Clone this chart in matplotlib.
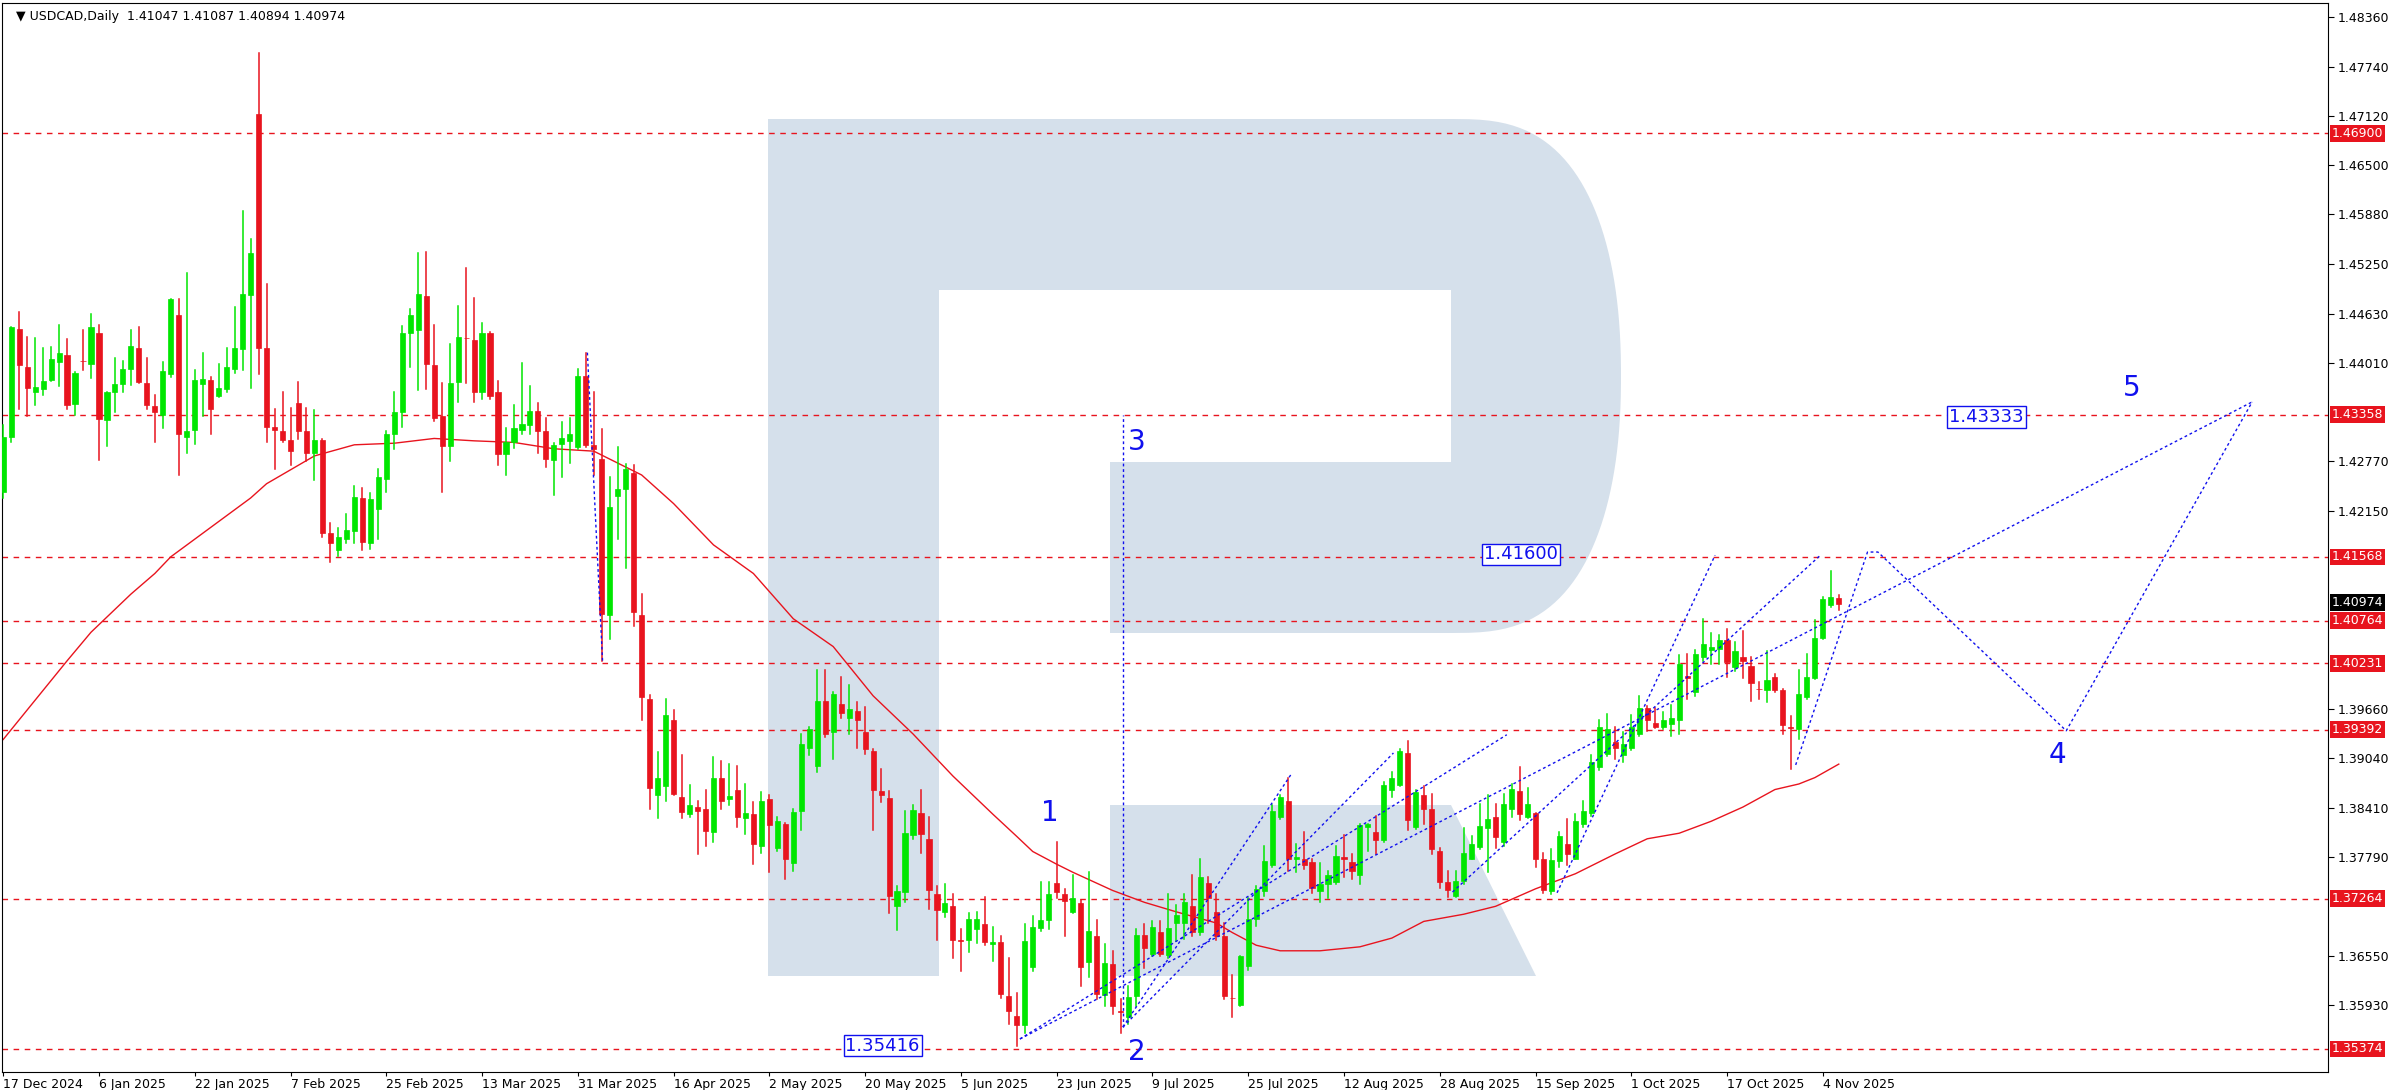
import matplotlib
matplotlib.use('Agg')
import matplotlib.pyplot as plt
from matplotlib.patches import Rectangle, Polygon
from matplotlib.transforms import blended_transform_factory
import numpy as np

# daily candles (bar 1 = 17 Dec 2024)
opens = [1.4238,1.4308,1.4444,1.4396,1.4365,1.4368,1.4380,1.4402,1.4411,1.4349,
         1.4404,1.4400,1.4439,1.4329,1.4365,1.4374,1.4394,1.4420,1.4376,1.4347,
         1.4336,1.4387,1.4462,1.4308,1.4317,1.4375,1.4380,1.4360,1.4368,1.4394,
         1.4418,1.4487,1.4715,1.4420,1.4321,1.4316,1.4304,1.4350,1.4315,1.4288,
         1.4304,1.4187,1.4165,1.4179,1.4189,1.4231,1.4174,1.4217,1.4255,1.4312,
         1.4339,1.4439,1.4443,1.4485,1.4399,1.4334,1.4297,1.4377,1.4433,1.4430,
         1.4364,1.4439,1.4364,1.4287,1.4301,1.4317,1.4323,1.4341,1.4316,1.4279,
         1.4299,1.4303,1.4295,1.4385,1.4298,1.4280,1.4084,1.4233,1.4242,1.4262,
         1.4084,1.3978,1.3857,1.3868,1.3951,1.3854,1.3833,1.3842,1.3840,1.3811,
         1.3879,1.3852,1.3863,1.3828,1.3833,1.3793,1.3852,1.3791,1.3820,1.3771,
         1.3837,1.3916,1.3894,1.3975,1.3936,1.3972,1.3954,1.3963,1.3937,1.3913,
         1.3862,1.3853,1.3718,1.3735,1.3807,1.3834,1.3802,1.3732,1.3710,1.3718,
         1.3675,1.3674,1.3688,1.3695,1.3670,1.3672,1.3604,1.3579,1.3567,1.3641,
         1.3690,1.3700,1.3746,1.3732,1.3710,1.3721,1.3647,1.3679,1.3605,1.3644,
         1.3585,1.3578,1.3604,1.3681,1.3657,1.3685,1.3656,1.3696,1.3696,1.3718,
         1.3685,1.3746,1.3710,1.3679,1.3602,1.3593,1.3642,1.3701,1.3736,1.3769,
         1.3830,1.3850,1.3777,1.3776,1.3773,1.3736,1.3745,1.3747,1.3779,1.3773,
         1.3756,1.3817,1.3811,1.3800,1.3864,1.3870,1.3910,1.3817,1.3857,1.3839,
         1.3787,1.3747,1.3730,1.3749,1.3777,1.3792,1.3815,1.3830,1.3798,1.3840,
         1.3862,1.3830,1.3835,1.3776,1.3736,1.3774,1.3796,1.3777,1.3820,1.3835,
         1.3893,1.3909,1.3924,1.3908,1.3916,1.3934,1.3967,1.3948,1.3943,1.3946,
         1.3952,1.4007,1.3987,1.4031,1.4040,1.4041,1.4052,1.4018,1.4031,1.4020,
         1.3991,1.3989,1.4006,1.3989,1.3943,1.3940,1.3981,1.4004,1.4055,1.4096,
         1.41047]
highs = [1.4323,1.4446,1.4465,1.4434,1.4433,1.4420,1.4421,1.4449,1.4431,1.4390,
         1.4442,1.4463,1.4449,1.4365,1.4407,1.4404,1.4443,1.4446,1.4407,1.4361,
         1.4402,1.4481,1.4482,1.4514,1.4392,1.4413,1.4383,1.4400,1.4420,1.4471,
         1.4592,1.4557,1.4791,1.4501,1.4343,1.4365,1.4344,1.4377,1.4344,1.4342,
         1.4305,1.4199,1.4193,1.4211,1.4246,1.4244,1.4237,1.4267,1.4315,1.4365,
         1.4448,1.4469,1.4539,1.4541,1.4449,1.4376,1.4425,1.4473,1.4520,1.4483,
         1.4451,1.4440,1.4378,1.4319,1.4348,1.4401,1.4372,1.4350,1.4332,1.4300,
         1.4327,1.4332,1.4393,1.4414,1.4364,1.4318,1.4258,1.4295,1.4274,1.4272,
         1.4110,1.3983,1.3911,1.3978,1.3964,1.3907,1.3870,1.3850,1.3863,1.3905,
         1.3900,1.3896,1.3894,1.3871,1.3848,1.3861,1.3857,1.3829,1.3822,1.3839,
         1.3934,1.3943,1.4015,1.4015,1.3987,1.4006,1.3996,1.3974,1.3968,1.3915,
         1.3890,1.3862,1.3742,1.3837,1.3845,1.3863,1.3830,1.3742,1.3745,1.3732,
         1.3688,1.3709,1.3710,1.3729,1.3691,1.3679,1.3652,1.3608,1.3695,1.3705,
         1.3747,1.3747,1.3798,1.3739,1.3757,1.3725,1.3760,1.3700,1.3670,1.3661,
         1.3600,1.3617,1.3688,1.3695,1.3698,1.3698,1.3732,1.3719,1.3732,1.3756,
         1.3776,1.3754,1.3732,1.3696,1.3630,1.3654,1.3727,1.3742,1.3793,1.3844,
         1.3857,1.3879,1.3795,1.3811,1.3776,1.3771,1.3762,1.3793,1.3807,1.3783,
         1.3821,1.3821,1.3831,1.3874,1.3886,1.3915,1.3925,1.3863,1.3868,1.3858,
         1.3791,1.3761,1.3762,1.3815,1.3806,1.3846,1.3857,1.3846,1.3859,1.3871,
         1.3892,1.3866,1.3835,1.3784,1.3789,1.3811,1.3827,1.3833,1.3850,1.3908,
         1.3952,1.3959,1.3943,1.3936,1.3958,1.3982,1.3969,1.3967,1.3962,1.3971,
         1.4033,1.4035,1.4040,1.4079,1.4061,1.4059,1.4066,1.4050,1.4063,1.4031,
         1.4000,1.4038,1.4009,1.3991,1.3956,1.4015,1.4035,1.4077,1.4106,1.4139,
         1.41087]
lows = [1.4231,1.4302,1.4343,1.4334,1.4348,1.4361,1.4378,1.4372,1.4343,1.4336,
        1.4392,1.4382,1.4279,1.4297,1.4339,1.4364,1.4373,1.4376,1.4343,1.4301,
        1.4319,1.4383,1.4260,1.4288,1.4299,1.4334,1.4312,1.4358,1.4365,1.4389,
        1.4392,1.4369,1.4387,1.4301,1.4268,1.4301,1.4273,1.4305,1.4277,1.4254,
        1.4182,1.4150,1.4158,1.4175,1.4174,1.4165,1.4167,1.4180,1.4238,1.4293,
        1.4321,1.4396,1.4367,1.4368,1.4328,1.4238,1.4277,1.4352,1.4376,1.4352,
        1.4356,1.4356,1.4273,1.4260,1.4294,1.4312,1.4311,1.4288,1.4270,1.4235,
        1.4258,1.4275,1.4293,1.4295,1.4260,1.4026,1.4053,1.4180,1.4143,1.4070,
        1.3952,1.3840,1.3828,1.3849,1.3857,1.3828,1.3830,1.3783,1.3793,1.3798,
        1.3840,1.3844,1.3817,1.3808,1.3770,1.3784,1.3760,1.3787,1.3751,1.3762,
        1.3813,1.3908,1.3886,1.3930,1.3902,1.3954,1.3934,1.3916,1.3909,1.3813,
        1.3848,1.3709,1.3687,1.3723,1.3802,1.3784,1.3714,1.3674,1.3703,1.3652,
        1.3635,1.3659,1.3671,1.3668,1.3648,1.3602,1.3569,1.3541,1.3557,1.3635,
        1.3686,1.3688,1.3727,1.3679,1.3708,1.3617,1.3628,1.3600,1.3591,1.3582,
        1.3557,1.3569,1.3591,1.3639,1.3655,1.3654,1.3652,1.3673,1.3676,1.3679,
        1.3681,1.3696,1.3674,1.3600,1.3578,1.3591,1.3637,1.3692,1.3730,1.3767,
        1.3827,1.3762,1.3760,1.3764,1.3734,1.3723,1.3727,1.3745,1.3754,1.3751,
        1.3745,1.3787,1.3783,1.3798,1.3855,1.3868,1.3813,1.3814,1.3821,1.3783,
        1.3740,1.3729,1.3729,1.3745,1.3776,1.3789,1.3760,1.3791,1.3793,1.3830,
        1.3826,1.3828,1.3767,1.3734,1.3732,1.3767,1.3769,1.3776,1.3817,1.3831,
        1.3888,1.3906,1.3902,1.3899,1.3914,1.3931,1.3938,1.3941,1.3940,1.3932,
        1.3934,1.3978,1.3982,1.4026,1.4022,1.4022,1.4006,1.4013,1.4004,1.3975,
        1.3978,1.3974,1.3987,1.3934,1.3890,1.3927,1.3978,1.4003,1.4053,1.4094,
        1.40894]
closes = [1.4308,1.4446,1.4398,1.4370,1.4371,1.4378,1.4406,1.4414,1.4348,1.4388,
          1.4403,1.4446,1.4330,1.4365,1.4374,1.4394,1.4422,1.4377,1.4348,1.4339,
          1.4391,1.4481,1.4311,1.4316,1.4379,1.4381,1.4343,1.4369,1.4396,1.4420,
          1.4488,1.4539,1.4420,1.4321,1.4317,1.4304,1.4290,1.4316,1.4288,1.4304,
          1.4187,1.4174,1.4182,1.4191,1.4232,1.4176,1.4230,1.4257,1.4312,1.4339,
          1.4439,1.4462,1.4488,1.4400,1.4332,1.4297,1.4376,1.4434,1.4432,1.4365,
          1.4439,1.4360,1.4287,1.4301,1.4319,1.4324,1.4341,1.4316,1.4280,1.4298,
          1.4306,1.4311,1.4385,1.4298,1.4293,1.4085,1.4220,1.4242,1.4268,1.4088,
          1.3981,1.3866,1.3879,1.3958,1.3859,1.3836,1.3844,1.3837,1.3812,1.3879,
          1.3849,1.3856,1.3829,1.3835,1.3795,1.3850,1.3819,1.3824,1.3776,1.3836,
          1.3921,1.3940,1.3975,1.3934,1.3984,1.3960,1.3966,1.3952,1.3915,1.3863,
          1.3857,1.3730,1.3736,1.3809,1.3838,1.3808,1.3738,1.3712,1.3721,1.3674,
          1.3673,1.3701,1.3701,1.3672,1.3672,1.3607,1.3585,1.3568,1.3673,1.3691,
          1.3700,1.3732,1.3735,1.3724,1.3728,1.3641,1.3686,1.3606,1.3645,1.3591,
          1.3584,1.3603,1.3681,1.3665,1.3691,1.3657,1.3690,1.3706,1.3723,1.3685,
          1.3754,1.3727,1.3679,1.3604,1.3601,1.3654,1.3701,1.3739,1.3774,1.3837,
          1.3855,1.3777,1.3779,1.3769,1.3740,1.3745,1.3756,1.3780,1.3777,1.3761,
          1.3819,1.3820,1.3800,1.3870,1.3879,1.3912,1.3826,1.3861,1.3840,1.3789,
          1.3747,1.3738,1.3749,1.3784,1.3795,1.3818,1.3827,1.3804,1.3846,1.3865,
          1.3833,1.3846,1.3776,1.3738,1.3775,1.3805,1.3783,1.3825,1.3837,1.3899,
          1.3943,1.3940,1.3916,1.3921,1.3943,1.3967,1.3952,1.3943,1.3952,1.3954,
          1.4022,1.4004,1.4035,1.4047,1.4043,1.4052,1.4025,1.4038,1.4026,1.3998,
          1.3990,1.4002,1.3989,1.3945,1.3942,1.3984,1.4006,1.4055,1.4104,1.4107,
          1.40974]

# moving average (red line) sampled along the chart
ma_bars = [1,9,12,17,20,22,27,32,34,40,45,50,55,60,65,70,75,78,81,85,90,95,100,
           105,110,115,120,125,128,130,133,135,140,144,148,153,155,158,161,166,171,175,
           179,184,188,193,198,203,207,211,215,219,223,226,228,231]
ma_vals = [1.3927,1.4026,1.4062,1.4110,1.4136,1.4157,1.4194,1.4231,1.4249,1.4284,
           1.4298,1.4300,1.4306,1.4303,1.4301,1.4293,1.4290,1.4275,1.4260,1.4224,
           1.4172,1.4136,1.4079,1.4044,1.3982,1.3934,1.3881,1.3833,1.3805,1.3786,
           1.3770,1.3760,1.3737,1.3722,1.3710,1.3696,1.3684,1.3668,1.3661,1.3661,
           1.3666,1.3677,1.3698,1.3707,1.3717,1.3739,1.3758,1.3783,1.3802,1.3809,
           1.3824,1.3842,1.3864,1.3871,1.3879,1.3896]

date_labels = ['17 Dec 2024','6 Jan 2025','22 Jan 2025','7 Feb 2025','25 Feb 2025',
               '13 Mar 2025','31 Mar 2025','16 Apr 2025','2 May 2025','20 May 2025',
               '5 Jun 2025','23 Jun 2025','9 Jul 2025','25 Jul 2025','12 Aug 2025',
               '28 Aug 2025','15 Sep 2025','1 Oct 2025','17 Oct 2025','4 Nov 2025']
price_ticks = [1.48360,1.47740,1.47120,1.46500,1.45880,1.45250,1.44630,1.44010,
               1.42770,1.42150,1.39660,1.39040,1.38410,1.37790,1.36550,1.35930]
levels = [1.46900,1.43358,1.41568,1.40764,1.40231,1.39392,1.37264,1.35374]
last_price = 1.40974

# wave markup (bar, price)
wave_lines = [
    [(74.2,1.4414),(76.1,1.4026)],
    [(128.4,1.3550),(282.8,1.4352)],
    [(128.4,1.3550),(189.4,1.3933)],
    [(141.3,1.3565),(175.2,1.3910)],
    [(141.3,1.3565),(162.5,1.3885)],
    [(182.6,1.3735),(228.7,1.4159)],
    [(195.7,1.3734),(215.5,1.4159)],
    [(225.6,1.3895),(234.6,1.4163),(235.9,1.4163),(259.5,1.3938),(282.8,1.4352)],
    [(141.3,1.3565),(141.3,1.4336)],
]
wave_labels = [('1',132.2,1.3834),('2',143.0,1.3534),('3',143.0,1.4302),
               ('4',258.4,1.3908),('5',267.7,1.4370)]
box_labels = [('1.35416',111.2,1.35416),('1.41600',191.2,1.41600),('1.43333',249.5,1.43333)]

W, H = 2390, 1090
fig = plt.figure(figsize=(W/100, H/100), dpi=100)

# background logo, drawn in pixel space
bg = fig.add_axes([0, 0, 1, 1])
bg.set_xlim(0, W)
bg.set_ylim(H, 0)
bg.axis('off')
logo = '#d5e0eb'
bg.add_patch(Rectangle((768, 119), 171, 857, color=logo, lw=0))
bg.add_patch(Rectangle((938, 119), 514, 171, color=logo, lw=0))
bg.add_patch(Rectangle((1110, 462), 342, 171, color=logo, lw=0))
t = np.linspace(-np.pi/2, np.pi/2, 80)
ex = 1451 + 170*np.sign(np.cos(t))*np.abs(np.cos(t))**0.7
ey = 376 + 257*np.sign(np.sin(t))*np.abs(np.sin(t))**0.9
bg.add_patch(Polygon(np.column_stack([ex, ey]), color=logo, lw=0))
bg.add_patch(Polygon([(1110,805),(1451,805),(1536,976),(1110,976)], color=logo, lw=0))

ax = fig.add_axes([2/W, 18/H, (2328-2)/W, (1072-3)/H])
ax.set_facecolor('none')
ax.set_xlim(0.85, 292.3)
ax.set_ylim(1.35084, 1.48542)
for s in ax.spines.values():
    s.set_color('black')
    s.set_linewidth(0.8)

for lv in levels:
    ax.axhline(lv, color='#e8141e', ls=(0, (4, 4)), lw=1.0, zorder=1)

bars = np.arange(1, len(closes)+1)
green, red = '#00e600', '#e8141e'
for b, o, h, l, c in zip(bars, opens, highs, lows, closes):
    col = green if c >= o else red
    ax.plot([b, b], [l, h], color=col, lw=1.1, zorder=3)
    lo, hi = min(o, c), max(o, c)
    ax.add_patch(Rectangle((b-0.32, lo), 0.64, max(hi-lo, 0.00008),
                           facecolor=col, edgecolor=col, lw=0.5, zorder=4))

ax.plot(ma_bars, ma_vals, color='#e8141e', lw=1.0, zorder=2)

for pts in wave_lines:
    xs, ys = zip(*pts)
    ax.plot(xs, ys, color='#1010ee', ls=(0, (2, 2)), lw=1.0, zorder=5)
for txt, x, y in wave_labels:
    ax.text(x, y, txt, color='#1010ee', fontsize=20, ha='center', va='center', zorder=6)
for txt, x, y in box_labels:
    ax.text(x, y, txt, color='#1010ee', fontsize=13, ha='center', va='center', zorder=6,
            bbox=dict(boxstyle='square,pad=0.1', fc='white', ec='#1010ee', lw=1))

ax.text(0.006, 0.993, '\u25bc USDCAD,Daily  1.41047 1.41087 1.40894 1.40974',
        transform=ax.transAxes, fontsize=9, va='top', ha='left')

# axes labels
ax.set_xticks(bars[::12])
ax.set_xticklabels(date_labels, fontsize=9, ha='left')
ax.tick_params(axis='x', length=3, pad=1)
ax.yaxis.tick_right()
ax.set_yticks(price_ticks)
ax.set_yticklabels(['%.5f' % p for p in price_ticks], fontsize=9)
ax.tick_params(axis='y', length=4, pad=3)

tr = blended_transform_factory(ax.transAxes, ax.transData)
for lv in levels:
    ax.text(1.0015, lv, '%.5f' % lv, transform=tr, color='white', fontsize=9,
            va='center', ha='left', clip_on=False,
            bbox=dict(boxstyle='square,pad=0.15', fc='#e8141e', ec='none'))
ax.text(1.0015, last_price + 0.0002, '%.5f' % last_price, transform=tr, color='white',
        fontsize=9, va='center', ha='left', clip_on=False,
        bbox=dict(boxstyle='square,pad=0.15', fc='black', ec='none'))

fig.savefig('out.png', dpi=100)
